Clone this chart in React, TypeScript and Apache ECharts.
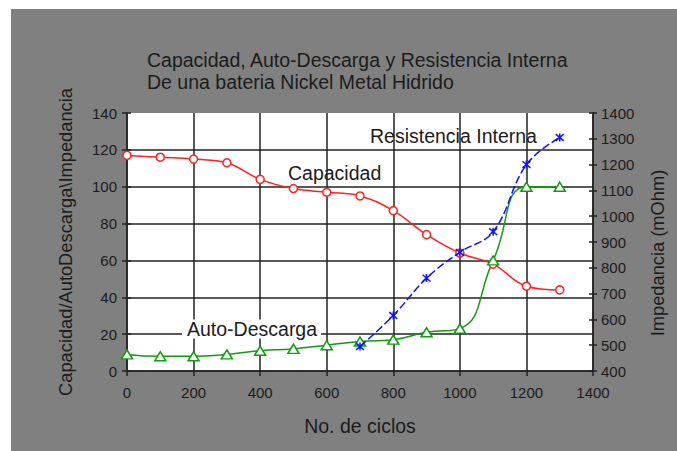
import React, { useEffect, useRef } from "react";
import * as echarts from "echarts";

const cycles = [0, 100, 200, 300, 400, 500, 600, 700, 800, 900, 1000, 1100, 1200, 1300];
const capacidad = [117, 116, 115, 113, 104, 99, 97, 95, 87, 74, 64, 58, 46, 44];
const autoDescarga = [9, 8, 8, 9, 11, 12, 14, 16, 17, 21, 23, 60, 100, 100];
const resistenciaCycles = [700, 800, 900, 1000, 1100, 1200, 1300];
const resistencia = [495, 615, 760, 860, 940, 1200, 1305];

const titleLines = [
  "Capacidad, Auto-Descarga y Resistencia Interna",
  "De una bateria Nickel Metal Hidrido",
];
const xName = "No. de ciclos";
const yLeftName = "Capacidad/AutoDescarga\\Impedancia";
const yRightName = "Impedancia (mOhm)";

const FONT = '"Liberation Sans", Arial, Helvetica, sans-serif';
const TXT = "#1c1c1c";
const GRID = "#222222";
const STAR = "path://M0 0 L10 10 M10 0 L0 10 M5 -1 L5 11";
const plain = (v: number) => String(v);

export default function App() {
  const ref = useRef<HTMLDivElement>(null);
  useEffect(() => {
    if (!ref.current) return;
    const chart = echarts.init(ref.current, undefined, { renderer: "svg" });
    const pair = (xs: number[], ys: number[]) => xs.map((x, i) => [x, ys[i]]);
    chart.setOption({
      animation: false,
      backgroundColor: "#808080",
      textStyle: { fontFamily: FONT },
      title: {
        text: titleLines.join("\n"),
        left: 136,
        top: 40,
        padding: 0,
        textStyle: { fontFamily: FONT, fontSize: 19.5, fontWeight: "normal", color: TXT, lineHeight: 22 },
      },
      grid: {
        left: 116,
        top: 104,
        width: 466,
        height: 258,
        show: true,
        backgroundColor: "#ffffff",
        borderWidth: 0,
      },
      xAxis: {
        type: "value",
        min: 0,
        max: 1400,
        interval: 200,
        name: xName,
        nameLocation: "middle",
        nameGap: 45,
        nameTextStyle: { fontFamily: FONT, fontSize: 19.5, color: TXT },
        axisLine: { show: true, lineStyle: { color: GRID, width: 1.5 } },
        axisTick: { show: true, length: 5, lineStyle: { color: GRID, width: 1.5 } },
        axisLabel: { fontFamily: FONT, fontSize: 15, color: TXT, margin: 14, formatter: plain },
        splitLine: { show: true, lineStyle: { color: GRID, width: 1.5 } },
      },
      yAxis: [
        {
          type: "value",
          position: "left",
          min: 0,
          max: 140,
          interval: 20,
          name: yLeftName,
          nameLocation: "middle",
          nameGap: 53,
          nameTextStyle: { fontFamily: FONT, fontSize: 18.3, color: TXT },
          axisLine: { show: true, lineStyle: { color: GRID, width: 1.5 } },
          axisTick: { show: true, length: 5, lineStyle: { color: GRID, width: 1.5 } },
          axisLabel: { fontFamily: FONT, fontSize: 15, color: TXT, margin: 10, formatter: plain },
          splitLine: { show: true, showMaxLine: false, lineStyle: { color: GRID, width: 1.5 } },
        },
        {
          type: "value",
          position: "right",
          min: 400,
          max: 1400,
          interval: 100,
          axisLine: { show: true, lineStyle: { color: GRID, width: 1.5 } },
          axisTick: { show: true, length: 4, lineStyle: { color: GRID, width: 1.5 } },
          axisLabel: { fontFamily: FONT, fontSize: 15, color: TXT, margin: 8, formatter: plain },
          splitLine: { show: false },
        },
        {
          type: "value",
          position: "right",
          min: 400,
          max: 1400,
          interval: 100,
          axisLine: { show: false },
          axisTick: { show: true, inside: true, length: 4, lineStyle: { color: GRID, width: 1.5 } },
          axisLabel: { show: false },
          splitLine: { show: false },
        },
        {
          type: "value",
          position: "left",
          min: 0,
          max: 140,
          interval: 20,
          axisLine: { show: false },
          axisTick: { show: true, inside: true, length: 4, lineStyle: { color: GRID, width: 1.5 } },
          axisLabel: { show: false },
          splitLine: { show: false },
        },
      ],
      series: [
        {
          name: "Capacidad",
          type: "line",
          yAxisIndex: 0,
          data: pair(cycles, capacidad),
          smooth: 0.4,
          symbol: "circle",
          symbolSize: 8,
          lineStyle: { color: "#ff2020", width: 1.5 },
          itemStyle: { color: "#ffffff", borderColor: "#ff2020", borderWidth: 1.5 },
          z: 3,
        },
        {
          name: "Auto-Descarga",
          type: "line",
          yAxisIndex: 0,
          data: pair(cycles, autoDescarga),
          smooth: 0.5,
          symbol: "triangle",
          symbolSize: [11, 9],
          lineStyle: { color: "#129a12", width: 1.5 },
          itemStyle: { color: "#ffffff", borderColor: "#129a12", borderWidth: 1.5 },
          z: 3,
        },
        {
          name: "Resistencia Interna",
          type: "line",
          yAxisIndex: 1,
          data: pair(resistenciaCycles, resistencia),
          smooth: 0.4,
          symbol: STAR,
          symbolSize: 8,
          lineStyle: { color: "#1010ff", width: 1.5, type: [8, 3] },
          itemStyle: { color: "#1010ff", borderColor: "#1010ff", borderWidth: 1.5 },
          z: 4,
        },
      ],
      graphic: [
        {
          type: "text",
          x: 646,
          y: 244,
          rotation: Math.PI / 2,
          style: {
            text: yRightName,
            fontFamily: FONT,
            fontSize: 18.3,
            fill: TXT,
            align: "center",
            verticalAlign: "middle",
          },
          z: 10,
        },
        {
          type: "text",
          left: 359,
          top: 117,
          style: { text: "Resistencia Interna", fontFamily: FONT, fontSize: 19.5, fill: TXT },
          z: 10,
        },
        {
          type: "text",
          left: 277,
          top: 154,
          style: { text: "Capacidad", fontFamily: FONT, fontSize: 19.5, fill: TXT },
          z: 10,
        },
        {
          type: "text",
          left: 171,
          top: 310,
          style: {
            text: "Auto-Descarga",
            fontFamily: FONT,
            fontSize: 19.5,
            fill: TXT,
            backgroundColor: "#ffffff",
            padding: [0, 4, 0, 5],
            lineHeight: 19,
          },
          z: 10,
        },
      ],
    });
    return () => chart.dispose();
  }, []);
  return (
    <div
      ref={ref}
      style={{ position: "absolute", left: 11, top: 9, width: 666, height: 442 }}
    />
  );
}
